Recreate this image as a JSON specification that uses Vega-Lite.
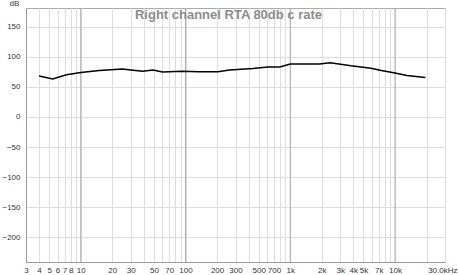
{
  "$schema": "https://vega.github.io/schema/vega-lite/v6.json",
  "width": 419,
  "height": 254,
  "autosize": {"type": "none"},
  "padding": {"left": 26, "top": 8, "right": 13, "bottom": 13},
  "background": "white",
  "config": {
    "font": "Liberation Sans",
    "view": {"stroke": "#aaaaaa", "strokeWidth": 1},
    "axis": {"labelFont": "Liberation Sans", "labelFontSize": 8, "labelColor": "#333333", "domainColor": "#999999", "ticks": false, "gridColor": "#dddddd", "gridOpacity": 1, "gridWidth": 1, "labelOverlap": false}
  },
  "title": {
    "text": "Right channel RTA 80db c rate",
    "font": "Liberation Sans",
    "fontSize": 13,
    "fontWeight": "bold",
    "color": "#8c8c8c",
    "anchor": "middle",
    "frame": "group",
    "baseline": "top",
    "offset": 0,
    "dy": 23,
    "dx": -7
  },
  "datasets": {
    "curve": [
      {"f": 4, "db": 68},
      {"f": 5.4, "db": 63},
      {"f": 7.3, "db": 70},
      {"f": 10, "db": 74},
      {"f": 15, "db": 77},
      {"f": 25, "db": 79.5},
      {"f": 30, "db": 78},
      {"f": 39, "db": 76},
      {"f": 49, "db": 78},
      {"f": 60, "db": 74.5},
      {"f": 93, "db": 76},
      {"f": 135, "db": 75},
      {"f": 204, "db": 75},
      {"f": 263, "db": 78},
      {"f": 440, "db": 80.5},
      {"f": 610, "db": 83},
      {"f": 795, "db": 83},
      {"f": 1000, "db": 88},
      {"f": 1480, "db": 88},
      {"f": 1900, "db": 88},
      {"f": 2400, "db": 90},
      {"f": 3800, "db": 85},
      {"f": 5900, "db": 81},
      {"f": 7400, "db": 77},
      {"f": 10000, "db": 73},
      {"f": 13000, "db": 69},
      {"f": 19500, "db": 65.5}
    ],
    "decades": [{"f": 10}, {"f": 100}, {"f": 1000}, {"f": 10000}]
  },
  "layer": [
    {
      "data": {"name": "decades"},
      "mark": {"type": "rule", "color": "#aaaaaa", "strokeWidth": 1},
      "encoding": {
        "x": {
          "field": "f",
          "type": "quantitative",
          "scale": {"type": "log", "domain": [3, 30000], "nice": false},
          "axis": {
            "title": null,
            "values": [3,4,5,6,7,8,9,10,20,30,40,50,60,70,80,90,100,200,300,400,500,600,700,800,900,1000,2000,3000,4000,5000,6000,7000,8000,9000,10000,20000,30000],
            "labelExpr": "indexof([3,4,5,6,7,8,10,20,30,50,70,100,200,300,500,700,1000,2000,3000,4000,5000,7000,10000,30000], datum.value) >= 0 ? (datum.value == 30000 ? '30.0kHz' : (datum.value >= 1000 ? (datum.value / 1000) + 'k' : datum.value + '')) : ''",
            "labelAlign": {"condition": {"test": "datum.value == 30000", "value": "right"}, "value": "center"},
            "labelOffset": {"condition": {"test": "datum.value == 30000", "value": 12}, "value": 0},
            "labelPadding": 4,
            "labelFlush": false,
            "labelOverlap": false,
            "labelBound": false
          }
        }
      }
    },
    {
      "data": {"name": "curve"},
      "mark": {"type": "line", "color": "#000000", "strokeWidth": 1.5},
      "encoding": {
        "x": {
          "field": "f",
          "type": "quantitative",
          "scale": {"type": "log", "domain": [3, 30000], "nice": false},
          "axis": {
            "title": null,
            "values": [3,4,5,6,7,8,9,10,20,30,40,50,60,70,80,90,100,200,300,400,500,600,700,800,900,1000,2000,3000,4000,5000,6000,7000,8000,9000,10000,20000,30000],
            "labelExpr": "indexof([3,4,5,6,7,8,10,20,30,50,70,100,200,300,500,700,1000,2000,3000,4000,5000,7000,10000,30000], datum.value) >= 0 ? (datum.value == 30000 ? '30.0kHz' : (datum.value >= 1000 ? (datum.value / 1000) + 'k' : datum.value + '')) : ''",
            "labelAlign": {"condition": {"test": "datum.value == 30000", "value": "right"}, "value": "center"},
            "labelOffset": {"condition": {"test": "datum.value == 30000", "value": 12}, "value": 0},
            "labelPadding": 4,
            "labelFlush": false,
            "labelOverlap": false,
            "labelBound": false
          }
        },
        "y": {
          "field": "db",
          "type": "quantitative",
          "scale": {"domain": [-241, 181], "nice": false, "zero": false},
          "axis": {
            "title": "dB",
            "titleAngle": 0,
            "titleX": -12,
            "titleY": -5,
            "titleAlign": "center",
            "titleBaseline": "middle",
            "titleFontSize": 8,
            "titleFontWeight": "normal",
            "titleColor": "#333333",
            "values": [-200, -150, -100, -50, 0, 50, 100, 150],
            "labelPadding": 6,
            "labelOverlap": false
          }
        }
      }
    }
  ]
}
